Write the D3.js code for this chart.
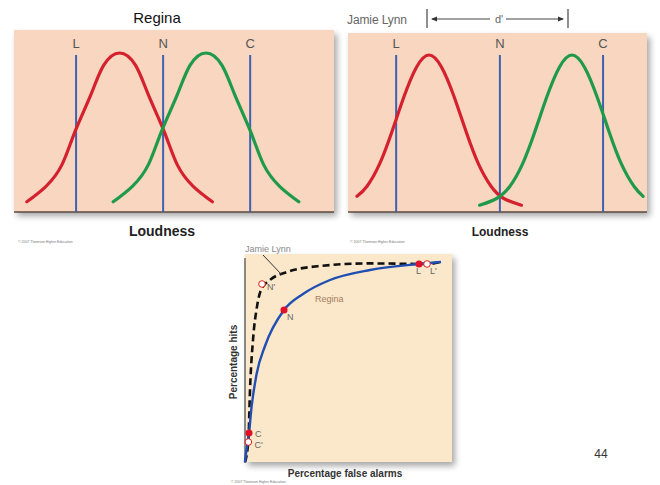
<!DOCTYPE html>
<html><head><meta charset="utf-8">
<script src="https://cdn.jsdelivr.net/npm/d3@7"></script>
<style>body{margin:0;background:#fff}svg{display:block}</style>
</head><body>
<script>
// ---- Data ----
// Top-left panel (Regina): loudness 0..100, relative density 0..1
const reginaNoiseX   = [4,10,15,19,24,28,33,38,42,47,51,56,62];
const reginaNoiseY   = [0.04,0.14,0.28,0.49,0.73,0.92,1,0.92,0.73,0.49,0.28,0.14,0.04];
const reginaSignalX  = [31,37,42,46,51,55,60,65,69,74,78,83,89];
const reginaSignalY  = [0.04,0.14,0.28,0.49,0.73,0.92,1,0.92,0.73,0.49,0.28,0.14,0.04];
const reginaCriteria = [19.4,46.6,73.8];
// Top-right panel (Jamie Lynn)
const jamieNoiseX    = [3,6.3,10.5,14.6,18.8,22.9,27.1,31.3,35.4,39.6,43.7,47.9,52.1,58];
const jamieNoiseY    = [0.07,0.135,0.28,0.49,0.73,0.92,1,0.92,0.73,0.49,0.28,0.135,0.056,0.012];
const jamieSignalX   = [44,49.7,54.1,58.3,62.4,66.6,70.7,74.9,79.1,83.2,87.4,91.5,95.7,98.7];
const jamieSignalY   = [0.012,0.056,0.135,0.28,0.49,0.73,0.92,1,0.92,0.73,0.49,0.28,0.135,0.07];
const jamieCriteria  = [16.1,50.8,85.3];
const criterionLabels = ["L","N","C"];
// ROC curves: percentage false alarms vs percentage hits
const reginaFA   = [0,0.6,2,3.3,5.8,10,19.5,29,42.5,62.5,87,98];
const reginaHits = [0,5,14.5,27.7,44,58,76,84,91,96,99,100];
const jamieFA    = [0,1.7,2.5,4,6,8,12.5,21,37.5,62.5,91,98];
const jamieHits  = [0,11,36,61,77.7,86,91,95,98,99.3,99,100];
const reginaPts  = [{l:"C",fa:2,h:14.5},{l:"N",fa:19.5,h:76},{l:"L",fa:87,h:99}];
const jamiePts   = [{l:"C'",fa:1.7,h:10},{l:"N'",fa:8.5,h:89},{l:"L'",fa:91,h:99}];

const W=660,H=485;
const svg=d3.select("body").append("svg").attr("width",W).attr("height",H)
  .style("font-family","Liberation Sans, Arial, sans-serif");
const defs=svg.append("defs");
const f=defs.append("filter").attr("id","sh").attr("x","-10%").attr("y","-10%").attr("width","130%").attr("height","130%");
f.append("feGaussianBlur").attr("in","SourceAlpha").attr("stdDeviation",3);
f.append("feOffset").attr("dx",3).attr("dy",4).attr("result","b");
f.append("feComponentTransfer").append("feFuncA").attr("type","linear").attr("slope",0.35);
const m=f.append("feMerge");m.append("feMergeNode");m.append("feMergeNode").attr("in","SourceGraphic");

const RED="#d5202e",GREEN="#1f9a4a",BLUE="#3d62b4";

function panel(x0,x1,yTop,yBase,yPeak,nx,ny,sx,sy,crit){
  const g=svg.append("g");
  g.append("rect").attr("x",x0).attr("y",yTop).attr("width",x1-x0).attr("height",212-yTop)
    .attr("fill","#f8d6bf").attr("filter","url(#sh)");
  g.append("line").attr("x1",x0).attr("x2",x1).attr("y1",212).attr("y2",212).attr("stroke","#5a4a40").attr("stroke-width",1.6);
  const x=d3.scaleLinear().domain([0,100]).range([x0,x1]);
  const y=d3.scaleLinear().domain([0,1]).range([yBase,yPeak]);
  const line=d3.line().x(d=>x(d[0])).y(d=>y(d[1])).curve(d3.curveNatural);
  crit.forEach((c,i)=>{
    g.append("line").attr("x1",x(c)).attr("x2",x(c)).attr("y1",55).attr("y2",212)
      .attr("stroke",BLUE).attr("stroke-width",2);
    g.append("text").attr("x",x(c)).attr("y",48).attr("text-anchor","middle")
      .attr("font-size",13).attr("fill","#555").text(criterionLabels[i]);
  });
  g.append("path").attr("d",line(d3.zip(nx,ny))).attr("fill","none").attr("stroke",RED).attr("stroke-width",3.2).attr("stroke-linecap","round");
  g.append("path").attr("d",line(d3.zip(sx,sy))).attr("fill","none").attr("stroke",GREEN).attr("stroke-width",3.2).attr("stroke-linecap","round");
  return x;
}
panel(14,334,30,208,53,reginaNoiseX,reginaNoiseY,reginaSignalX,reginaSignalY,reginaCriteria);
panel(348,647,33,207,55,jamieNoiseX,jamieNoiseY,jamieSignalX,jamieSignalY,jamieCriteria);

svg.append("text").attr("x",157).attr("y",23).attr("text-anchor","middle").attr("font-size",15).attr("fill","#111").text("Regina");
svg.append("text").attr("x",162).attr("y",236).attr("text-anchor","middle").attr("font-size",14).attr("font-weight","bold").attr("fill","#222").text("Loudness");
svg.append("text").attr("x",500).attr("y",236).attr("text-anchor","middle").attr("font-size",12).attr("font-weight","bold").attr("fill","#222").text("Loudness");
svg.append("text").attr("x",347).attr("y",24).attr("font-size",12).attr("fill","#666").attr("textLength",60).text("Jamie Lynn");
// d' bracket
const dg=svg.append("g").attr("stroke","#444").attr("stroke-width",1.2);
dg.append("line").attr("x1",427).attr("x2",427).attr("y1",9).attr("y2",28);
dg.append("line").attr("x1",568).attr("x2",568).attr("y1",9).attr("y2",28);
dg.append("line").attr("x1",432).attr("x2",490).attr("y1",19).attr("y2",19);
dg.append("line").attr("x1",506).attr("x2",563).attr("y1",19).attr("y2",19);
svg.append("path").attr("d","M431,19 l6,-2.5 v5z M564,19 l-6,-2.5 v5z").attr("fill","#333");
svg.append("text").attr("x",499).attr("y",23).attr("text-anchor","middle").attr("font-size",11).attr("fill","#666").text("d'");

// tiny copyright texts
[[18,243],[350,243],[231,483]].forEach(p=>svg.append("text").attr("x",p[0]).attr("y",p[1]).attr("font-size",3.5).attr("fill","#777").text("© 2007 Thomson Higher Education"));

// ROC panel
const rx=d3.scaleLinear().domain([0,100]).range([245,445]);
const ry=d3.scaleLinear().domain([0,100]).range([462,262]);
svg.append("rect").attr("x",245).attr("y",254).attr("width",207).attr("height",208).attr("fill","#fbe7c9").attr("filter","url(#sh)");
svg.append("line").attr("x1",245).attr("x2",245).attr("y1",258).attr("y2",463).attr("stroke","#666").attr("stroke-width",1.5);
const rl=d3.line().x(d=>rx(d[0])).y(d=>ry(d[1])).curve(d3.curveMonotoneX);
svg.append("path").attr("d",rl(d3.zip(jamieFA,jamieHits))).attr("fill","none").attr("stroke","#111").attr("stroke-width",2.6).attr("stroke-dasharray","7,4");
svg.append("path").attr("d",rl(d3.zip(reginaFA,reginaHits))).attr("fill","none").attr("stroke","#1f4fb2").attr("stroke-width",2.4);
svg.selectAll(".jp").data(jamiePts).join("circle").attr("cx",d=>rx(d.fa)).attr("cy",d=>ry(d.h)).attr("r",3.3)
  .attr("fill","#fff").attr("stroke","#d22").attr("stroke-width",1);
svg.selectAll(".rp").data(reginaPts).join("circle").attr("cx",d=>rx(d.fa)).attr("cy",d=>ry(d.h)).attr("r",3.5).attr("fill","#e0102a");
const lblOff={"C":[6,4],"N":[3,10],"L":[-3,10],"C'":[6,6],"N'":[5,6],"L'":[3,10]};
reginaPts.concat(jamiePts).forEach(d=>svg.append("text").attr("x",rx(d.fa)+lblOff[d.l][0]).attr("y",ry(d.h)+lblOff[d.l][1])
  .attr("font-size",9).attr("fill","#666").text(d.l));
svg.append("text").attr("x",245).attr("y",252).attr("font-size",9).attr("fill","#888").text("Jamie Lynn");
svg.append("line").attr("x1",263).attr("y1",255).attr("x2",282).attr("y2",275).attr("stroke","#333").attr("stroke-width",1);
svg.append("text").attr("x",315).attr("y",302).attr("font-size",9).attr("fill","#a08060").text("Regina");
svg.append("text").attr("x",345).attr("y",477).attr("text-anchor","middle").attr("font-size",10).attr("font-weight","bold").attr("fill","#333").text("Percentage false alarms");
svg.append("text").attr("transform","translate(237,362) rotate(-90)").attr("text-anchor","middle").attr("font-size",10).attr("font-weight","bold").attr("fill","#333").text("Percentage hits");
svg.append("text").attr("x",601).attr("y",458).attr("text-anchor","middle").attr("font-size",12).attr("fill","#333").text("44");
</script>
</body></html>
